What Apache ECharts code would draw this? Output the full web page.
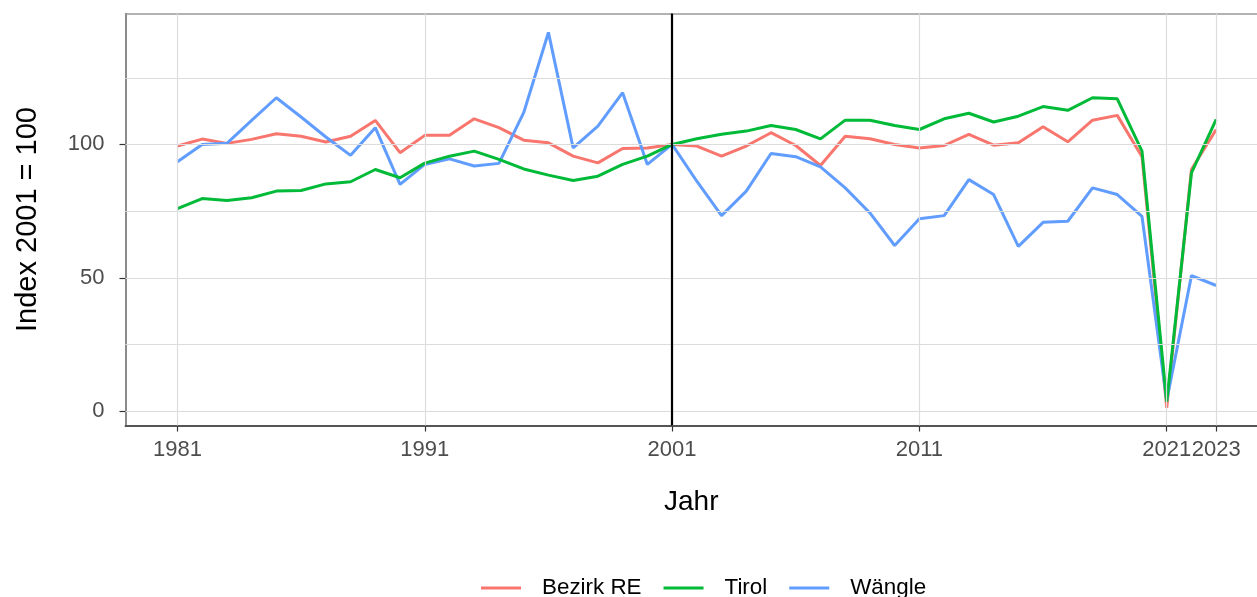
<!DOCTYPE html>
<html>
<head>
<meta charset="utf-8">
<script src="https://cdn.jsdelivr.net/npm/echarts@6/dist/echarts.min.js"></script>
<style>
  html, body { margin: 0; padding: 0; background: #fff; }
  #chart { width: 1257px; height: 597px; }
</style>
</head>
<body>
<div id="chart"></div>
<script>
const years = []
for (let y = 1981; y <= 2023; y++) years.push(y)

const bezirkRE = [99.4, 102, 100.4, 101.9, 104, 103.1, 100.9, 103.1, 109, 96.9,
  103.4, 103.4, 109.6, 106.3, 101.6, 100.6, 95.6, 93.1, 98.5, 98.7,
  100, 99.4, 95.6, 99.4, 104.4, 99.6, 92.1, 103.1, 102.1, 100,
  98.7, 99.6, 103.8, 99.7, 100.6, 106.6, 101, 109.1, 110.9, 95.4,
  1.2, 90.6, 105.6]
const tirol = [75.9, 79.7, 79, 80, 82.5, 82.7, 85.2, 86, 90.6, 87.5,
  93, 95.6, 97.5, 94.4, 90.8, 88.5, 86.5, 88.1, 92.5, 95.6,
  100, 102.1, 103.8, 105, 107.1, 105.6, 102.1, 109.1, 109.1, 107.1,
  105.6, 109.6, 111.7, 108.4, 110.6, 114.2, 112.8, 117.5, 117.1, 97.5,
  3.5, 89.3, 109.4]
const waengle = [93.5, 100, 100.4, 109, 117.5, 110.3, 102.8, 95.9, 106.3, 85,
  92.5, 94.6, 91.9, 92.9, 111.9, 142, 98.7, 106.9, 119.4, 92.5,
  100, 86.2, 73.3, 82.5, 96.6, 95.4, 91.6, 83.7, 74.3, 62.1,
  72.1, 73.3, 86.8, 81.2, 61.8, 70.8, 71.2, 83.7, 81.2, 73,
  4, 50.8, 47.1]

const xBreaks = [1981, 1991, 2001, 2011, 2021, 2023]
const yBreaks = [0, 50, 100]
const yMinor = [25, 75, 125]
const refYear = 2001

const seriesNames = ['Bezirk RE', 'Tirol', 'Wängle']
const colors = ['#F8766D', '#00BA38', '#619CFF']
const font = '"Liberation Sans", Arial, sans-serif'

function pairs(vals) {
  return years.map((y, i) => [y, vals[i]])
}

const gridLines = []
xBreaks.forEach(v => gridLines.push({ xAxis: v }))
yBreaks.concat(yMinor).forEach(v => gridLines.push({ yAxis: v }))

// panel is cut by the right edge of the picture
const xMin = 1978.9
const xMax = 2024.65

const myChart = echarts.init(document.getElementById('chart'), null, { renderer: 'canvas' })
const option = {
  animation: false,
  textStyle: { fontFamily: font },
  grid: { left: 125.5, right: 0, top: 13.5, bottom: 171.5 },
  legend: {
    data: seriesNames,
    left: 481, top: 577, padding: 0,
    icon: 'rect', itemWidth: 40, itemHeight: 3, itemGap: 22,
    textStyle: { fontSize: 22.4, color: '#000', fontFamily: font, padding: [0, 0, 0, 16] }
  },
  xAxis: [{
    type: 'value',
    min: xMin, max: xMax,
    name: 'Jahr', nameLocation: 'middle', nameGap: 63,
    nameTextStyle: { fontSize: 28, color: '#000', fontFamily: font },
    axisLine: { show: true, onZero: false, lineStyle: { color: '#555', width: 2 } },
    axisTick: { show: true, length: 6, customValues: xBreaks, lineStyle: { color: '#333', width: 1.2 } },
    axisLabel: { customValues: xBreaks, fontSize: 22, color: '#4d4d4d', margin: 13, formatter: v => String(v) },
    splitLine: { show: false }
  }, {
    type: 'value', position: 'top',
    min: xMin, max: xMax,
    axisLine: { show: true, onZero: false, lineStyle: { color: '#999', width: 1.5 } },
    axisTick: { show: false },
    axisLabel: { show: false },
    splitLine: { show: false }
  }],
  yAxis: {
    type: 'value',
    min: -5.4, max: 149.1,
    name: 'Index 2001 = 100', nameLocation: 'middle', nameGap: 83, nameRotate: 90,
    nameTextStyle: { fontSize: 29, color: '#000', fontFamily: font },
    axisLine: { show: true, onZero: false, lineStyle: { color: '#777', width: 1.7 } },
    axisTick: { show: true, length: 6, customValues: yBreaks, lineStyle: { color: '#333', width: 1.2 } },
    axisLabel: { customValues: yBreaks, fontSize: 22, color: '#4d4d4d', margin: 21 },
    splitLine: { show: false }
  },
  series: [
    {
      name: 'grid', type: 'line', data: pairs(bezirkRE), symbol: 'none', silent: true, z: 1,
      lineStyle: { opacity: 0 },
      markLine: {
        silent: true, symbol: ['none', 'none'], label: { show: false },
        lineStyle: { type: 'solid', color: '#dcdcdc', width: 1.2 },
        emphasis: { disabled: true },
        data: gridLines
      }
    },
    {
      name: seriesNames[0], type: 'line', data: pairs(bezirkRE), symbol: 'none', z: 2,
      color: colors[0], lineStyle: { width: 3, color: colors[0] }
    },
    {
      name: seriesNames[2], type: 'line', data: pairs(waengle), symbol: 'none', z: 3,
      color: colors[2], lineStyle: { width: 3, color: colors[2] }
    },
    {
      name: seriesNames[1], type: 'line', data: pairs(tirol), symbol: 'none', z: 4,
      color: colors[1], lineStyle: { width: 3, color: colors[1] },
      markLine: {
        silent: true, symbol: ['none', 'none'], label: { show: false },
        lineStyle: { type: 'solid', color: '#000', width: 2.2 },
        emphasis: { disabled: true },
        data: [{ xAxis: refYear }]
      }
    }
  ]
}
myChart.setOption(option)
</script>
</body>
</html>
